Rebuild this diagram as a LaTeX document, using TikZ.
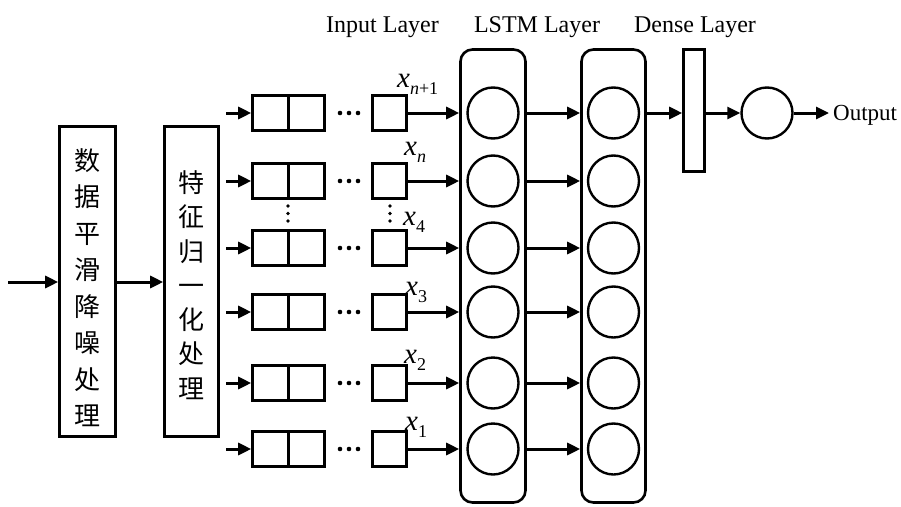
\documentclass[tikz,border=0pt]{standalone}
\usepackage{fontspec}
\setmainfont{Liberation Serif}
\newfontfamily\cjk{Noto Sans CJK SC}
\usetikzlibrary{arrows.meta}
\newcommand{\xlab}[1]{{\fontsize{29}{29}\selectfont\itshape x}\raisebox{-7pt}{\fontsize{18}{18}\selectfont #1}}
\begin{document}
\begin{tikzpicture}[x=1pt,y=-1pt,
  thick box/.style={draw,line width=2.6pt,inner sep=0pt},
  cell/.style={thick box,minimum width=34pt,minimum height=35pt},
  dcell/.style={thick box,minimum width=72pt,minimum height=35pt},
  neuron/.style={draw,circle,line width=2.4pt,minimum size=51pt,inner sep=0pt},
  layer/.style={draw,line width=2.6pt,rounded corners=12pt,inner sep=0pt},
  arr/.style={line width=3pt,-{Triangle[length=13pt,width=12pt]}},
  title/.style={font=\fontsize{24}{24}\selectfont,anchor=base},
  cjktext/.style={align=center,inner sep=0pt}]
\useasboundingbox (0,0) rectangle (901,506);

% preprocessing boxes
\node[thick box,minimum width=56pt,minimum height=310pt] (smooth) at (87.5,281.5) {};
\node[thick box,minimum width=54pt,minimum height=310pt] (norm) at (191.5,281.5) {};
\node[cjktext,font=\cjk\fontsize{26}{36.5}\selectfont] (smoothtxt) at (87.5,287.5) {数\\据\\平\\滑\\降\\噪\\处\\理};
\node[cjktext,font=\cjk\fontsize{26}{34.3}\selectfont] (normtxt) at (191.5,285) {特\\征\\归\\一\\化\\处\\理};
\coordinate (in) at (8,282);
\draw[arr] (in) -- (smooth.west |- in);
\draw[arr] (smooth.east |- in) -- (norm.west |- in);

% layers
\node[layer,minimum width=65pt,minimum height=453pt] (lstmA) at (493,276) {};
\node[layer,minimum width=64pt,minimum height=453pt] (lstmB) at (613.5,276) {};
\node[thick box,minimum width=21pt,minimum height=122pt] (dense) at (694,110.5) {};

% rows
\foreach \i/\y in {1/113,2/181,3/248,4/312,5/383,6/449}{
  \node[dcell] (d\i) at (288.5,\y) {};
  \draw[line width=2.6pt] (d\i.north) -- (d\i.south);
  \node[cell] (s\i) at (389.5,\y) {};
  \coordinate (st\i) at (226,\y);
  \draw[arr] (st\i) -- (d\i.west);
  \fill (340,\y) circle (2.3pt) (349,\y) circle (2.3pt) (358,\y) circle (2.3pt);
  \draw[arr] (s\i.east) -- (lstmA.west |- s\i);
  \node[neuron] (a\i) at (493,\y) {};
  \node[neuron] (b\i) at (613.5,\y) {};
  \draw[arr] (lstmA.east |- s\i) -- (lstmB.west |- s\i);
}
% vertical dots
\foreach \xx in {288,390}{
  \fill (\xx,206) circle (1.8pt) (\xx,213.5) circle (1.8pt) (\xx,221) circle (1.8pt);
}

% labels
\node[anchor=base west,inner sep=0pt] (l1) at (397,87) {\xlab{\itshape n\upshape+1}};
\node[anchor=base west,inner sep=0pt] (l2) at (404,155) {\xlab{\itshape n}};
\node[anchor=base west,inner sep=0pt] (l3) at (403,225) {\xlab{4}};
\node[anchor=base west,inner sep=0pt] (l4) at (405,295) {\xlab{3}};
\node[anchor=base west,inner sep=0pt] (l5) at (404,363) {\xlab{2}};
\node[anchor=base west,inner sep=0pt] (l6) at (405,430) {\xlab{1}};

% dense and output
\draw[arr] (lstmB.east |- b1) -- (dense.west |- b1);
\node[neuron] (out) at (767,113) {};
\draw[arr] (dense.east |- out) -- (out.west);
\coordinate (outend) at (829,113);
\draw[arr] (out.east) -- (outend);
\node[anchor=base west,inner sep=0pt,font=\fontsize{23}{23}\selectfont] (outtxt) at (833,120) {Output};

% titles
\node[title] (t1) at (382.5,32) {Input Layer};
\node[title] (t2) at (537,32) {LSTM Layer};
\node[title] (t3) at (695,32) {Dense Layer};
\end{tikzpicture}
\end{document}
